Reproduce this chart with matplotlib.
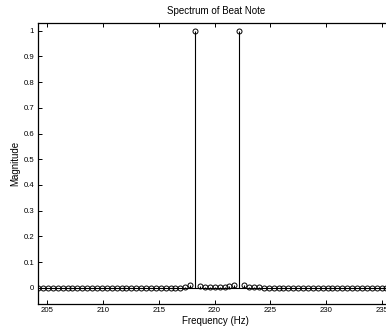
import numpy as np
import matplotlib
matplotlib.use('Agg')
import matplotlib.pyplot as plt

plt.rcParams.update({
    'font.family': ['Liberation Sans', 'DejaVu Sans'],
    'font.size': 5.6,
    'axes.linewidth': 0.9,
    'xtick.direction': 'in',
    'ytick.direction': 'in',
    'xtick.major.size': 3,
    'ytick.major.size': 3,
    'xtick.major.width': 0.7,
    'ytick.major.width': 0.7,
})

# DFT bin grid (start and spacing)
f_start = 204.18
f_step = 0.44

# magnitude per bin
mag = [0.0] * 30 + [0.005, 0.012, 1.0, 0.008,
                    0.003, 0.002, 0.002, 0.003, 0.004, 0.006, 0.011,
                    1.0, 0.011, 0.005] + [0.002] * 2 + [0.0] * 36

freq = f_start + f_step * np.arange(len(mag))
xticks = [205, 210, 215, 220, 225, 230, 235]
yticks = [0, 0.1, 0.2, 0.3, 0.4, 0.5, 0.6, 0.7, 0.8, 0.9, 1]
ytick_labels = ['0', '0.1', '0.2', '0.3', '0.4', '0.5', '0.6', '0.7', '0.8', '0.9', '1']

fig = plt.figure(figsize=(3.86, 3.26), dpi=100)
ax = fig.add_axes([37.7 / 386, 1 - 304 / 326, (394 - 37.7) / 386, (304 - 22.7) / 326])

ax.axhline(0, color='black', lw=0.8, zorder=1)
ax.vlines(freq, 0, mag, color='black', lw=0.8, zorder=2)
ax.plot(freq, mag, 'o', mfc='none', mec='black', ms=3.6, mew=0.7, zorder=3)

ax.set_xlim(204.14, 236.1)
ax.set_ylim(-0.063, 1.031)
ax.set_xticks(xticks)
ax.set_yticks(yticks)
ax.set_yticklabels(ytick_labels)
ax.tick_params(top=True, right=True, pad=2.5)

ax.set_title('Spectrum of Beat Note', fontsize=7, pad=6.5)
ax.set_xlabel('Frequency (Hz)', fontsize=7, labelpad=1)
ax.set_ylabel('Magnitude', fontsize=7, labelpad=2.5)

fig.savefig('out.png', dpi=100)
